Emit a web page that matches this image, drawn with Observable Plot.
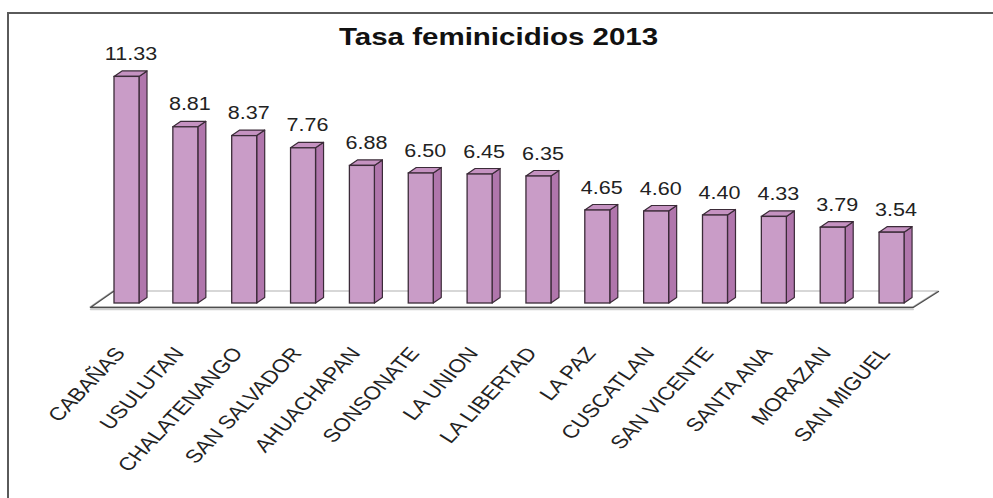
<!DOCTYPE html>
<html>
<head>
<meta charset="utf-8">
<script src="https://cdn.jsdelivr.net/npm/d3@7"></script>
<script src="https://cdn.jsdelivr.net/npm/@observablehq/plot@0.6"></script>
<style>
  html, body { margin: 0; padding: 0; background: #fff; }
  #wrap { position: relative; width: 993px; height: 498px; overflow: hidden; }
  #frame { position: absolute; left: 7px; top: 12px; width: 1000px; height: 500px;
           border-top: 2px solid #5a5a5a; border-left: 2px solid #5a5a5a; box-sizing: border-box; }
  #chart { position: absolute; left: 0; top: 0; }
</style>
</head>
<body>
<div id="wrap"><div id="frame"></div><div id="chart"></div></div>
<script>
const title = "Tasa feminicidios 2013";
const departments = ["CABAÑAS", "USULUTAN", "CHALATENANGO", "SAN SALVADOR", "AHUACHAPAN", "SONSONATE",
  "LA UNION", "LA LIBERTAD", "LA PAZ", "CUSCATLAN", "SAN VICENTE", "SANTA ANA", "MORAZAN", "SAN MIGUEL"];
const rates = [11.33, 8.81, 8.37, 7.76, 6.88, 6.50, 6.45, 6.35, 4.65, 4.60, 4.40, 4.33, 3.79, 3.54];

const data = departments.map((name, i) => ({i, name, v: rates[i]}));
const fmt = d3.format(".2f");

// 3D geometry in data units
const hw = 0.2124;   // half bar width
const ddx = 0.136;   // depth x
const ddy = 0.275;   // depth y

const sidePts = data.flatMap(d => [
  {z: d.i, x: d.i + hw, y1: 0, y2: d.v},
  {z: d.i, x: d.i + hw + ddx, y1: ddy, y2: d.v + ddy}
]);
const topPts = data.flatMap(d => [
  {z: d.i, y: d.v, x1: d.i - hw, x2: d.i + hw},
  {z: d.i, y: d.v + ddy, x1: d.i - hw + ddx, x2: d.i + hw + ddx}
]);
const n = data.length;
const floorPts = [
  {y: -0.2, x1: -0.62, x2: n - 1 + 0.36},
  {y: 0.6, x1: -0.23, x2: n - 1 + 0.79}
];
const floorEdge = [
  {x: -0.23, y: 0.6}, {x: -0.62, y: -0.2}, {x: n - 1 + 0.36, y: -0.2}, {x: n - 1 + 0.79, y: 0.6}
];

const FRONT = "#c99cc7", SIDE = "#b076ac", TOP = "#c592c1", EDGE = "#3b2b38";

const plot = Plot.plot({
  width: 993,
  height: 498,
  marginLeft: 67.65,
  marginRight: 42.6,
  marginTop: 43,
  marginBottom: 175,
  x: {domain: [-1, 14], axis: null},
  y: {domain: [-1, 13], axis: null},
  style: {fontFamily: "'Liberation Sans', Arial, sans-serif", background: "transparent", color: "#222"},
  marks: [
    Plot.areaX(floorPts, {y: "y", x1: "x1", x2: "x2", fill: "#fff", stroke: "#b0b0b0", strokeWidth: 1.2}),
    Plot.line(floorEdge.slice(1, 3), {x: "x", y: "y", stroke: "#cfcfcf", strokeWidth: 1.5, dy: 2}),
    Plot.line(floorEdge, {x: "x", y: "y", stroke: "#4d4d4d", strokeWidth: 1.3}),
    Plot.areaY(sidePts, {x: "x", y1: "y1", y2: "y2", z: "z", fill: SIDE, stroke: EDGE, strokeWidth: 1.2, strokeLinejoin: "round"}),
    Plot.areaX(topPts, {y: "y", x1: "x1", x2: "x2", z: "z", fill: TOP, stroke: EDGE, strokeWidth: 1.2, strokeLinejoin: "round"}),
    Plot.rect(data, {x1: d => d.i - hw, x2: d => d.i + hw, y1: 0, y2: "v", fill: FRONT, stroke: EDGE, strokeWidth: 1.3}),
    Plot.text(data, {x: "i", y: "v", text: d => fmt(d.v), dx: 4, dy: -17, lineAnchor: "bottom",
      fontSize: 17.5, fill: "#222"}),
    Plot.text(data, {x: "i", frameAnchor: "bottom", dx: -1, dy: 30, text: "name", rotate: -52, textAnchor: "end",
      lineAnchor: "bottom", fontSize: 18.5, fill: "#222"}),
    Plot.text([title], {frameAnchor: "top", dx: -11, dy: 1, lineAnchor: "bottom", fontSize: 24,
      fontWeight: "bold", fill: "#111"})
  ]
});

// horizontal stretch of the text, as in the reference image (screen-space)
plot.querySelectorAll("text").forEach(t => {
  const tr = t.getAttribute("transform") || "";
  const s = tr.includes("rotate(") ? tr.replace("rotate(", "scale(1.23,1) rotate(") : (tr + " scale(1.23,1)");
  t.setAttribute("transform", s.trim());
});

document.getElementById("chart").appendChild(plot);
</script>
</body>
</html>
